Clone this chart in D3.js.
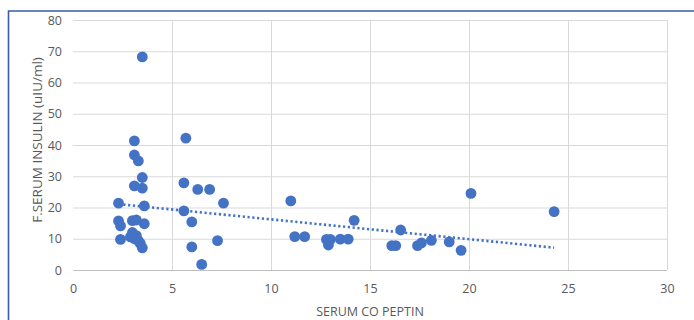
<!DOCTYPE html>
<html>
<head>
<meta charset="utf-8">
<script src="https://cdn.jsdelivr.net/npm/d3@7"></script>
<style>
  body { margin: 0; background: #fff; }
  svg text { font-family: "Open Sans", "Liberation Sans", sans-serif; }
</style>
</head>
<body>
<svg id="chart"></svg>
<script>
// serum c-peptide (x) vs fasting serum insulin (y)
var cPeptin = [3.5, 3.1, 5.7, 3.1, 3.3, 3.5, 3.1, 3.5, 5.6, 6.3, 6.9, 7.6, 2.3, 3.6, 5.6, 6.0,
  2.3, 2.4, 3.0, 3.2, 3.6, 2.4, 2.9, 3.0, 3.1, 3.3, 3.4, 3.5, 3.2, 6.0, 6.5, 7.3,
  11.0, 11.2, 11.7, 12.8, 12.9, 13.0, 13.5, 13.9, 14.2, 16.1, 16.3, 16.55, 17.4, 17.6, 18.1, 19.0, 19.6, 20.1, 24.3];
var insulin = [68.2, 41.3, 42.2, 36.8, 34.9, 29.6, 26.9, 26.2, 27.9, 25.8, 25.8, 21.4, 21.4, 20.5, 18.9, 15.4,
  15.7, 14.1, 15.8, 16.0, 14.8, 9.8, 10.6, 12.0, 10.0, 9.4, 8.5, 7.1, 11.0, 7.4, 1.8, 9.4,
  22.1, 10.7, 10.7, 9.8, 8.0, 9.8, 9.9, 9.9, 15.9, 7.8, 7.8, 12.8, 7.8, 8.7, 9.5, 9.0, 6.3, 24.5, 18.7];
var xTicks = [0, 5, 10, 15, 20, 25, 30];
var yTicks = [0, 10, 20, 30, 40, 50, 60, 70, 80];

var width = 694, height = 320;
var margin = {top: 20, right: 27, bottom: 50, left: 73};
var plotW = width - margin.left - margin.right,
    plotH = height - margin.top - margin.bottom;

var svg = d3.select("#chart")
  .attr("width", width)
  .attr("height", height);

// outer frame (left and top edges visible)
svg.append("path")
  .attr("d", "M8.5," + height + " V11 H" + width)
  .attr("fill", "none")
  .attr("stroke", "#3a5ea8")
  .attr("stroke-width", 1.6);

var x = d3.scaleLinear().domain([0, 30]).range([0, plotW]),
    y = d3.scaleLinear().domain([0, 80]).range([plotH, 0]);

var g = svg.append("g")
  .attr("transform", "translate(" + margin.left + "," + margin.top + ")");

// gridlines
g.selectAll(".hgrid").data(yTicks).enter().append("line")
  .attr("x1", 0).attr("x2", plotW)
  .attr("y1", function(d) { return y(d) + 0.5; })
  .attr("y2", function(d) { return y(d) + 0.5; })
  .attr("stroke", function(d) { return d === 0 ? "#bfbfbf" : "#d9d9d9"; })
  .attr("stroke-width", 1);
g.selectAll(".vgrid").data(xTicks.slice(1)).enter().append("line")
  .attr("y1", 0).attr("y2", plotH)
  .attr("x1", function(d) { return Math.round(x(d)) + 0.5; })
  .attr("x2", function(d) { return Math.round(x(d)) + 0.5; })
  .attr("stroke", "#d9d9d9");

// tick labels
var xAxis = g.append("g")
  .attr("transform", "translate(0," + plotH + ")")
  .call(d3.axisBottom(x).tickValues(xTicks).tickSize(0).tickPadding(14));
var yAxis = g.append("g")
  .call(d3.axisLeft(y).tickValues(yTicks).tickSize(0).tickPadding(11));
[xAxis, yAxis].forEach(function(a) {
  a.select(".domain").remove();
  a.selectAll("text").attr("fill", "#595959").style("font-size", "12.5px");
});

// points
var pts = cPeptin.map(function(v, i) { return {x: v, y: insulin[i]}; });
g.selectAll(".dot").data(pts).enter().append("circle")
  .attr("class", "dot")
  .attr("cx", function(d) { return x(d.x); })
  .attr("cy", function(d) { return y(d.y); })
  .attr("r", 5.4)
  .attr("fill", "#4472c4");

// linear trendline (least squares)
var mx = d3.mean(cPeptin), my = d3.mean(insulin);
var sxy = d3.sum(pts, function(d) { return (d.x - mx) * (d.y - my); }),
    sxx = d3.sum(pts, function(d) { return (d.x - mx) * (d.x - mx); });
var slope = sxy / sxx, icpt = my - slope * mx;
var xr = d3.extent(cPeptin);
g.append("line")
  .attr("x1", x(xr[0])).attr("y1", y(icpt + slope * xr[0]))
  .attr("x2", x(xr[1])).attr("y2", y(icpt + slope * xr[1]))
  .attr("stroke", "#4472c4")
  .attr("stroke-width", 2.6)
  .attr("stroke-dasharray", "2.2,2.6");

// axis titles
svg.append("text")
  .attr("x", margin.left + plotW / 2)
  .attr("y", 316)
  .attr("text-anchor", "middle")
  .attr("fill", "#595959")
  .style("font-size", "12.5px")
  .text("SERUM CO PEPTIN");
svg.append("text")
  .attr("transform", "translate(42,140) rotate(-90)")
  .attr("text-anchor", "middle")
  .attr("fill", "#595959")
  .style("font-size", "13.5px")
  .text("F.SERUM INSULIN (uIU/ml)");
</script>
</body>
</html>
